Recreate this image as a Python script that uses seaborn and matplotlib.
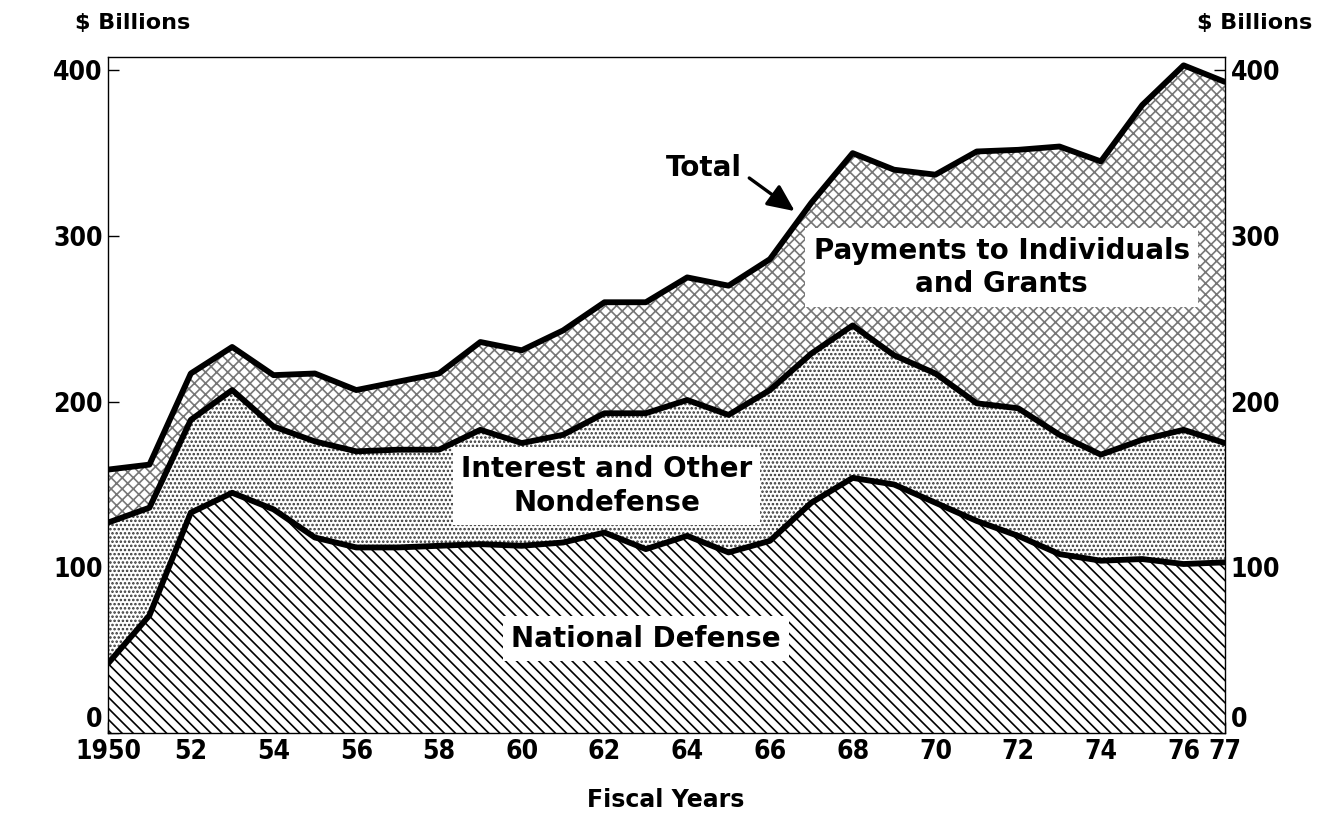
import numpy as np
import pandas as pd
import seaborn as sns
import matplotlib.pyplot as plt

years = list(range(1950, 1978))
defense = [42, 71, 133, 145, 135, 118, 112, 112, 113, 114, 113, 115, 121, 111,
           119, 109, 116, 139, 154, 150, 139, 128, 119, 108, 104, 105, 102, 103]
defense_plus_other = [127, 136, 189, 207, 185, 176, 170, 171, 171, 183, 175, 180, 193, 193,
                      201, 192, 207, 229, 246, 228, 217, 199, 196, 180, 168, 177, 183, 175]
total = [159, 162, 217, 233, 216, 217, 207, 212, 217, 236, 231, 243, 260, 260,
         275, 270, 286, 320, 350, 340, 337, 351, 352, 354, 345, 379, 403, 393]

x_ticks = [1950, 1952, 1954, 1956, 1958, 1960, 1962, 1964, 1966, 1968, 1970, 1972, 1974, 1976, 1977]
x_labels = ['1950', '52', '54', '56', '58', '60', '62', '64', '66', '68', '70', '72', '74', '76', '77']
y_ticks = [0, 100, 200, 300, 400]

df = pd.DataFrame({'year': years, 'defense': defense,
                   'other': defense_plus_other, 'total': total})

sns.set_theme(style='ticks')
plt.rcParams['font.family'] = ['DejaVu Sans']
plt.rcParams['hatch.linewidth'] = 1.2
plt.rcParams['text.color'] = 'black'
plt.rcParams['xtick.color'] = 'black'
plt.rcParams['ytick.color'] = 'black'

fig = plt.figure(figsize=(13.18, 8.15), dpi=100)
ax = fig.add_axes([0.082, 0.1006, 0.8474, 0.8294])

# hatched bands
ax.fill_between(df['year'], 0, df['defense'], facecolor='white', edgecolor='black',
                hatch='\\\\\\', linewidth=0)
ax.fill_between(df['year'], df['defense'], df['other'], facecolor='white', edgecolor='#333333',
                hatch='....', linewidth=0)
ax.fill_between(df['year'], df['other'], df['total'], facecolor='white', edgecolor='#777777',
                hatch='xxx', linewidth=0)

for col in ['defense', 'other', 'total']:
    sns.lineplot(data=df, x='year', y=col, ax=ax, color='black', linewidth=4.2)

ax.set_xlim(1950, 1977)
ax.set_ylim(0, 408)
ax.set_xlabel('')
ax.set_ylabel('')
ax.set_xticks(x_ticks)
ax.set_xticklabels(x_labels, stretch='condensed', fontsize=19, fontweight='bold')
ax.set_yticks(y_ticks)
ax.set_yticklabels([str(v) for v in y_ticks], stretch='condensed', fontsize=19, fontweight='bold')
ax.tick_params(axis='both', direction='in', length=8, width=1, color='black',
               labelcolor='black', pad=4)
ax.tick_params(axis='y', right=True, labelright=True)
# the zero labels sit above the baseline
for t in ax.yaxis.get_major_ticks()[:1]:
    t.label1.set_va('bottom')
    t.label2.set_va('bottom')
for s in ax.spines.values():
    s.set_linewidth(1)
    s.set_color('black')

box = dict(facecolor='white', edgecolor='none', pad=6)
ax.text(1962.05, 149, 'Interest and Other\nNondefense', ha='center', va='center',
        fontsize=20, fontweight='bold', linespacing=1.25, bbox=box)
ax.text(1963.0, 57, 'National Defense', ha='center', va='center',
        fontsize=20, fontweight='bold', bbox=box)
ax.text(1971.6, 281, 'Payments to Individuals\nand Grants', ha='center', va='center',
        fontsize=20, fontweight='bold', linespacing=1.25, bbox=box)
ax.text(1964.4, 341, 'Total', ha='center', va='center', fontsize=20, fontweight='bold')
ax.annotate('', xy=(1966.6, 315), xytext=(1965.5, 335),
            arrowprops=dict(arrowstyle='-|>,head_length=1.1,head_width=0.5', color='black',
                            lw=2.4, mutation_scale=15, shrinkA=0, shrinkB=0))

fig.text(0.057, 0.972, '$ Billions', ha='left', va='center', fontsize=16, fontweight='bold')
fig.text(0.996, 0.972, '$ Billions', ha='right', va='center', fontsize=16, fontweight='bold')
fig.text(0.505, 0.018, 'Fiscal Years', ha='center', va='center', fontsize=17, fontweight='bold')

fig.savefig('out.png', dpi=100)
